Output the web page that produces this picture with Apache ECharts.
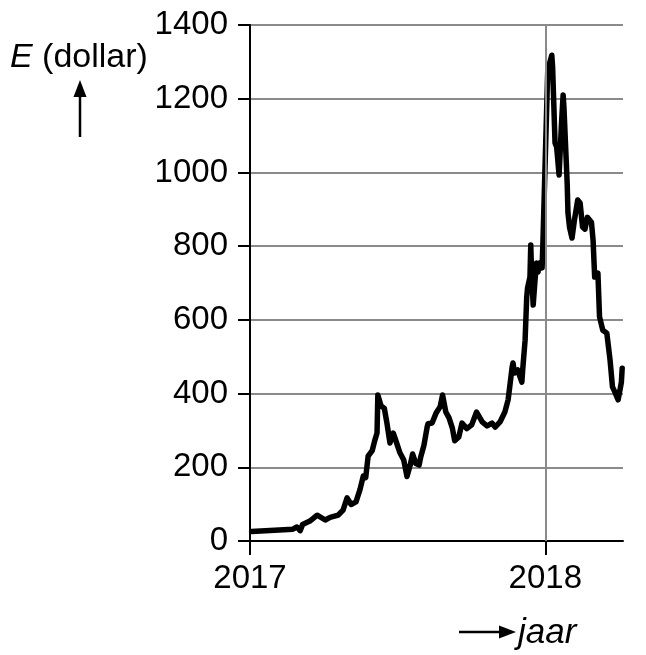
<!DOCTYPE html>
<html>
<head>
<meta charset="utf-8">
<script src="https://cdn.jsdelivr.net/npm/echarts@6/dist/echarts.min.js"></script>
<style>
html,body{margin:0;padding:0;background:#fff;}
#chart{width:646px;height:655px;}
</style>
</head>
<body>
<div id="chart"></div>
<script>
// ---- data ----
const dates = [
  '2017-01-03','2017-02-23','2017-02-28','2017-03-04','2017-03-07','2017-03-16','2017-03-25',
  '2017-04-04','2017-04-10','2017-04-20','2017-04-26','2017-05-01','2017-05-06','2017-05-12',
  '2017-05-17','2017-05-21','2017-05-24','2017-05-27','2017-06-01','2017-06-04','2017-06-07',
  '2017-06-08','2017-06-12','2017-06-16','2017-06-19','2017-06-23','2017-06-27','2017-06-30',
  '2017-07-05','2017-07-10','2017-07-14','2017-07-18','2017-07-21','2017-07-25','2017-07-29',
  '2017-07-31','2017-08-04','2017-08-08','2017-08-09','2017-08-14','2017-08-19','2017-08-24',
  '2017-08-27','2017-08-31','2017-09-04','2017-09-08','2017-09-11','2017-09-16','2017-09-20',
  '2017-09-26','2017-10-02','2017-10-08','2017-10-10','2017-10-15','2017-10-21','2017-10-27',
  '2017-10-31','2017-11-06','2017-11-12','2017-11-16','2017-11-18','2017-11-21','2017-11-22',
  '2017-11-24','2017-11-28','2017-11-30','2017-12-03','2017-12-04','2017-12-07','2017-12-09',
  '2017-12-10','2017-12-13','2017-12-14','2017-12-15','2017-12-17','2017-12-19','2017-12-21',
  '2017-12-23','2017-12-25','2017-12-28','2017-12-29','2018-01-04','2018-01-09','2018-01-10',
  '2018-01-13','2018-01-15','2018-01-18','2018-01-21','2018-01-23','2018-01-24','2018-01-28',
  '2018-01-29','2018-01-31','2018-02-03','2018-02-06','2018-02-10','2018-02-13','2018-02-16',
  '2018-02-19','2018-02-22','2018-02-27','2018-03-01','2018-03-03','2018-03-07','2018-03-09',
  '2018-03-13','2018-03-18','2018-03-22','2018-03-25','2018-03-28','2018-04-01','2018-04-05',
  '2018-04-06'
];
const prices = [
  26,32,38,28,45,54,70,
  57,64,70,84,117,99,106,
  140,176,172,230,245,271,293,
  396,366,360,323,266,293,274,
  241,220,175,206,236,210,206,
  228,260,310,318,320,347,364,
  396,350,334,307,272,282,320,
  305,315,350,355,323,312,320,
  309,323,350,383,418,472,483,
  456,464,450,431,464,545,662,
  686,716,803,727,640,700,754,
  730,754,741,808,1278,1318,1286,
  1080,1069,993,1134,1210,1177,971,
  890,850,822,871,925,917,852,
  846,878,865,817,716,727,608,
  572,564,491,418,404,383,431,
  469
];
const yTicks = [0,200,400,600,800,1000,1200,1400];
const yearTicks = ['2017-01-01','2018-01-01'];
const xMin = '2017-01-01';
const xMax = '2018-04-07';

const toTs = s => { const p = s.split('-').map(Number); return Date.UTC(p[0], p[1]-1, p[2]); };
const seriesData = dates.map((d,i) => [toTs(d), prices[i]]);
const yearTs = yearTicks.map(toTs);

const FONT = '"Liberation Sans", Arial, sans-serif';
const chart = echarts.init(document.getElementById('chart'));
chart.setOption({
  animation: false,
  backgroundColor: '#fff',
  grid: { left: 250, right: 23, top: 25, bottom: 114, containLabel: false },
  xAxis: {
    type: 'value',
    min: toTs(xMin),
    max: toTs(xMax),
    axisLine: { show: true, onZero: false, lineStyle: { color: '#000', width: 2 } },
    axisTick: { show: true, length: 14, lineStyle: { color: '#000', width: 2 }, customValues: yearTs },
    axisLabel: {
      show: true, customValues: yearTs, margin: 21,
      color: '#000', fontSize: 33, fontFamily: FONT,
      formatter: v => String(new Date(v).getUTCFullYear())
    },
    splitLine: { show: false }
  },
  yAxis: {
    type: 'value',
    min: yTicks[0], max: yTicks[yTicks.length-1], interval: 200,
    axisLine: { show: true, onZero: false, lineStyle: { color: '#000', width: 2 } },
    axisTick: { show: true, length: 12, lineStyle: { color: '#000', width: 2 } },
    axisLabel: { color: '#000', fontSize: 33, fontFamily: FONT, margin: 22, formatter: v => String(v) },
    splitLine: { show: true, lineStyle: { color: '#8a8a8a', width: 2 } }
  },
  series: [
    {
      type: 'line', data: [], z: 1, silent: true,
      markLine: {
        silent: true, symbol: 'none', label: { show: false },
        lineStyle: { color: '#8a8a8a', width: 2, type: 'solid' },
        data: [{ xAxis: yearTs[1] }]
      }
    },
    {
      type: 'line', data: seriesData, z: 3,
      showSymbol: false, symbol: 'none',
      lineStyle: { color: '#000', width: 5.5, join: 'round', cap: 'round' }
    }
  ],
  graphic: [
    {
      type: 'text', left: 10, top: 41,
      style: {
        text: '{i|E} (dollar)', fontSize: 34, fontFamily: FONT, fill: '#000',
        rich: { i: { fontStyle: 'italic', fontSize: 34, fontFamily: FONT } }
      }
    },
    { type: 'line', shape: { x1: 80, y1: 137, x2: 80, y2: 92 }, style: { stroke: '#000', lineWidth: 2.5 } },
    { type: 'polygon', shape: { points: [[80, 80], [73.5, 97], [86.5, 97]] }, style: { fill: '#000' } },
    { type: 'line', shape: { x1: 459, y1: 632, x2: 503, y2: 632 }, style: { stroke: '#000', lineWidth: 2.5 } },
    { type: 'polygon', shape: { points: [[516, 632], [499, 625.5], [499, 638.5]] }, style: { fill: '#000' } },
    {
      type: 'text', left: 518, top: 616,
      style: { text: 'jaar', fontSize: 35, fontStyle: 'italic', fontFamily: FONT, fill: '#000' }
    }
  ]
});
</script>
</body>
</html>
